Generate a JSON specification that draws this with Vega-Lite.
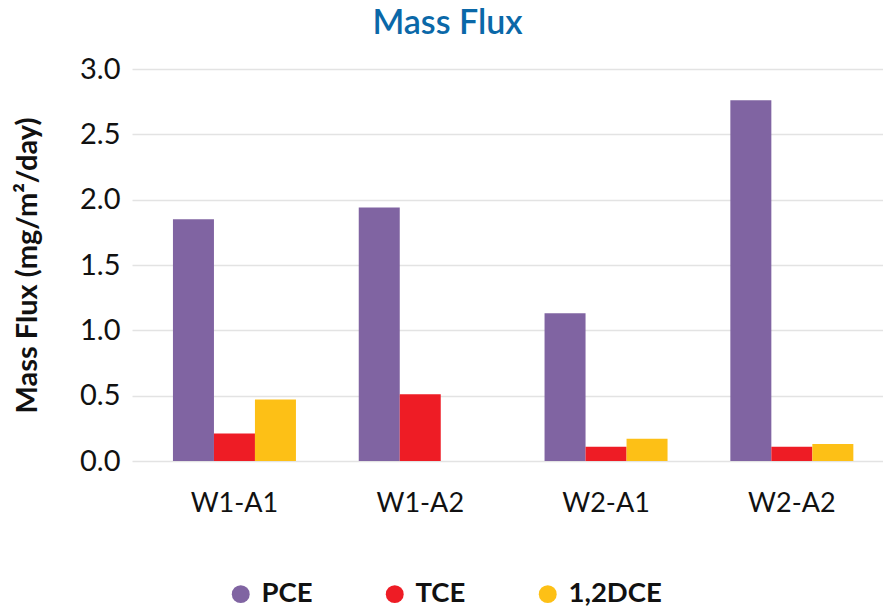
{
  "$schema": "https://vega.github.io/schema/vega-lite/v6.json",
  "autosize": {"type": "none"},
  "width": 751,
  "height": 392,
  "padding": {"left": 132, "top": 69, "right": 0, "bottom": 147},
  "background": "white",
  "title": {
    "text": "Mass Flux",
    "font": "Lato",
    "fontSize": 34,
    "fontWeight": 600,
    "color": "#0a68a8",
    "anchor": "middle",
    "dx": -60,
    "offset": 14
  },
  "data": {
    "values": [
      {"well": "W1-A1", "compound": "PCE", "flux": 1.85},
      {"well": "W1-A1", "compound": "TCE", "flux": 0.21},
      {"well": "W1-A1", "compound": "1,2DCE", "flux": 0.47},
      {"well": "W1-A2", "compound": "PCE", "flux": 1.94},
      {"well": "W1-A2", "compound": "TCE", "flux": 0.51},
      {"well": "W1-A2", "compound": "1,2DCE", "flux": 0},
      {"well": "W2-A1", "compound": "PCE", "flux": 1.13},
      {"well": "W2-A1", "compound": "TCE", "flux": 0.11},
      {"well": "W2-A1", "compound": "1,2DCE", "flux": 0.17},
      {"well": "W2-A2", "compound": "PCE", "flux": 2.76},
      {"well": "W2-A2", "compound": "TCE", "flux": 0.11},
      {"well": "W2-A2", "compound": "1,2DCE", "flux": 0.13}
    ]
  },
  "mark": {"type": "bar"},
  "encoding": {
    "x": {
      "field": "well",
      "type": "nominal",
      "sort": null,
      "scale": {"paddingInner": 0.338, "paddingOuter": 0.19, "align": 0.58},
      "axis": {
        "title": null,
        "labelAngle": 0,
        "labelFont": "Lato",
        "labelFontSize": 27,
        "labelColor": "#111111",
        "labelPadding": 29,
        "ticks": false,
        "domain": false,
        "grid": false
      }
    },
    "xOffset": {"field": "compound", "type": "nominal", "sort": ["PCE", "TCE", "1,2DCE"], "scale": {"paddingInner": 0}},
    "y": {
      "field": "flux",
      "type": "quantitative",
      "scale": {"domain": [0, 3]},
      "axis": {
        "title": "Mass Flux (mg/m²/day)",
        "titleFont": "Lato",
        "titleFontSize": 29,
        "titleFontWeight": "bold",
        "titleColor": "#111111",
        "titlePadding": 37,
        "values": [0, 0.5, 1, 1.5, 2, 2.5, 3],
        "format": ".1f",
        "labelFont": "Lato",
        "labelFontSize": 29,
        "labelColor": "#111111",
        "labelPadding": 12,
        "ticks": false,
        "domain": false,
        "gridColor": "#e3e3e3",
        "gridWidth": 1.5
      }
    },
    "color": {
      "field": "compound",
      "type": "nominal",
      "sort": ["PCE", "TCE", "1,2DCE"],
      "scale": {"domain": ["PCE", "TCE", "1,2DCE"], "range": ["#8064a2", "#ee1c25", "#fdc016"]},
      "legend": {
        "title": null,
        "orient": "none",
        "legendX": 95,
        "legendY": 511,
        "padding": 0,
        "direction": "horizontal",
        "symbolType": "circle",
        "symbolSize": 320,
        "symbolStrokeWidth": 0,
        "labelFont": "Lato",
        "labelFontSize": 27.5,
        "labelFontWeight": "bold",
        "labelColor": "#111111",
        "labelOffset": 7,
        "columnPadding": 68
      }
    }
  },
  "config": {"view": {"stroke": null}}
}
